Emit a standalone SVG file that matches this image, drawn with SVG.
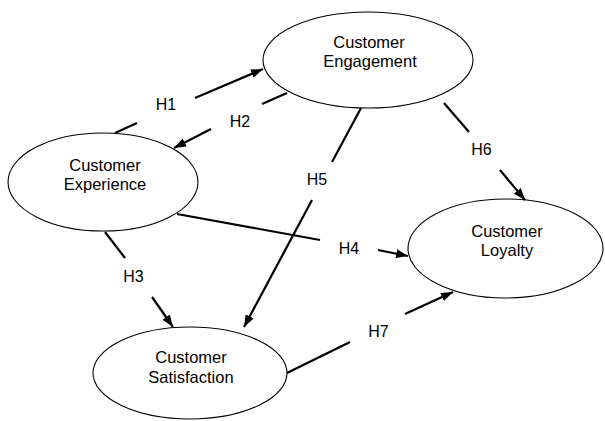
<svg xmlns="http://www.w3.org/2000/svg" width="605" height="421" viewBox="0 0 605 421">
<style>
.node ellipse{fill:#fff;stroke:#000;stroke-width:1.1}
.node text{font-family:"Liberation Sans",Arial,sans-serif;font-size:16.5px;fill:#000;text-anchor:middle}
.edges line{stroke:#000;stroke-width:2.2}
.lbl{font-family:"Liberation Sans",Arial,sans-serif;font-size:16px;fill:#000;text-anchor:middle}
</style>
<defs>
<marker id="ah" markerUnits="userSpaceOnUse" markerWidth="13" markerHeight="10" refX="12" refY="4.5" orient="auto">
<path d="M0,0 L12,4.5 L0,9 z" fill="#000"/>
</marker>
</defs>
<rect width="605" height="421" fill="#fff"/>
<g id="engagement" class="node">
<ellipse cx="368" cy="60" rx="105" ry="48"/>
<text x="369" y="48">Customer</text>
<text x="370" y="67">Engagement</text>
</g>
<g id="experience" class="node">
<ellipse cx="103" cy="182" rx="95" ry="49"/>
<text x="105" y="171">Customer</text>
<text x="105" y="190">Experience</text>
</g>
<g id="loyalty" class="node">
<ellipse cx="505.5" cy="248.5" rx="97.5" ry="49.5"/>
<text x="507" y="237">Customer</text>
<text x="507" y="256">Loyalty</text>
</g>
<g id="satisfaction" class="node">
<ellipse cx="190" cy="373" rx="97" ry="46"/>
<text x="191" y="363">Customer</text>
<text x="191" y="383">Satisfaction</text>
</g>
<g id="connectors" class="edges">
<line x1="115" y1="133" x2="137" y2="123"/>
<line x1="195" y1="98" x2="263" y2="69" marker-end="url(#ah)"/>
<line x1="287" y1="93" x2="262" y2="104"/>
<line x1="211" y1="129" x2="174" y2="148" marker-end="url(#ah)"/>
<line x1="105" y1="232" x2="125" y2="258"/>
<line x1="152" y1="297" x2="173" y2="327" marker-end="url(#ah)"/>
<line x1="177" y1="214" x2="320" y2="240"/>
<line x1="378" y1="250" x2="408" y2="256" marker-end="url(#ah)"/>
<line x1="361" y1="108" x2="332" y2="162"/>
<line x1="312" y1="200" x2="244" y2="327" marker-end="url(#ah)"/>
<line x1="444" y1="103" x2="469" y2="132"/>
<line x1="500" y1="170" x2="525" y2="200" marker-end="url(#ah)"/>
<line x1="287" y1="373" x2="350" y2="342"/>
<line x1="405" y1="314" x2="453" y2="292" marker-end="url(#ah)"/>
</g>
<g id="labels">
<text class="lbl" x="166" y="110">H1</text>
<text class="lbl" x="240" y="127">H2</text>
<text class="lbl" x="133.5" y="282">H3</text>
<text class="lbl" x="349" y="254">H4</text>
<text class="lbl" x="317" y="185">H5</text>
<text class="lbl" x="481.5" y="155">H6</text>
<text class="lbl" x="378.5" y="337">H7</text>
</g>
</svg>
